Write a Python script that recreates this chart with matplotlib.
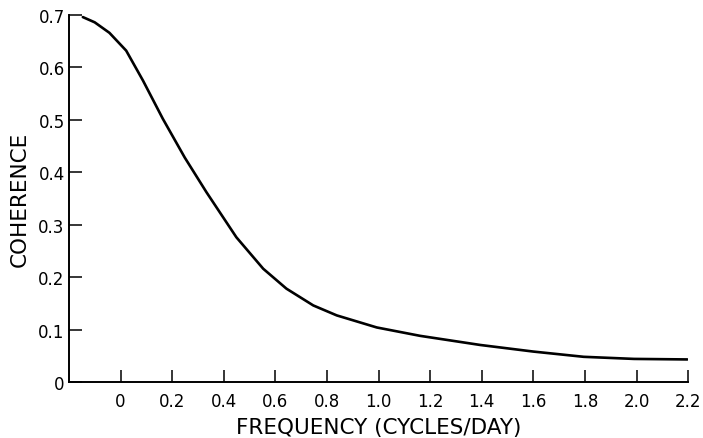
#!/usr/bin/env python3
"""Coherence spectrum vs. frequency (cycles/day)."""

import matplotlib
matplotlib.use("Agg")
import matplotlib.pyplot as plt

# Coherence curve read at a set of frequencies (cycles/day)
FREQ = [-0.146, -0.10, -0.043, 0.022, 0.087, 0.164, 0.249, 0.333,
        0.449, 0.553, 0.643, 0.747, 0.838, 0.993, 1.161, 1.394, 1.60,
        1.795, 1.99, 2.197]
COHERENCE = [0.696, 0.686, 0.666, 0.632, 0.575, 0.502, 0.428, 0.362,
             0.276, 0.216, 0.178, 0.146, 0.127, 0.104, 0.088, 0.0706, 0.058,
             0.048, 0.044, 0.043]

X_TICKS = [0, 0.2, 0.4, 0.6, 0.8, 1.0, 1.2, 1.4, 1.6, 1.8, 2.0, 2.2]
X_TICKLABELS = ["0", "0.2", "0.4", "0.6", "0.8", "1.0", "1.2", "1.4", "1.6",
                "1.8", "2.0", "2.2"]
Y_TICKS = [0, 0.1, 0.2, 0.3, 0.4, 0.5, 0.6, 0.7]
Y_TICKLABELS = ["0", "0.1", "0.2", "0.3", "0.4", "0.5", "0.6", "0.7"]

TICK_FONTSIZE = 12
LABEL_FONTSIZE = 15.5


def main() -> None:
    fig = plt.figure(figsize=(7.03, 4.39), dpi=100)
    ax = fig.add_axes([0.098, 0.1276, 0.881, 0.836])

    ax.plot(FREQ, COHERENCE, color="black", linewidth=1.9,
            solid_capstyle="round", solid_joinstyle="round")

    ax.set_xlim(-0.2, 2.2)
    ax.set_ylim(0, 0.7)

    for side in ("top", "right"):
        ax.spines[side].set_visible(False)
    for side in ("left", "bottom"):
        ax.spines[side].set_linewidth(1.4)

    ax.set_xticks(X_TICKS)
    ax.set_xticklabels(X_TICKLABELS)
    ax.set_yticks(Y_TICKS)
    ax.set_yticklabels(Y_TICKLABELS)
    ax.tick_params(axis="both", direction="in", length=9, width=1.1,
                   labelsize=TICK_FONTSIZE)
    ax.tick_params(axis="x", pad=7)
    ax.tick_params(axis="y", pad=3)

    ax.set_xlabel("FREQUENCY (CYCLES/DAY)", fontsize=LABEL_FONTSIZE, labelpad=5)
    ax.set_ylabel("COHERENCE", fontsize=LABEL_FONTSIZE, labelpad=6)

    fig.savefig("out.png", dpi=100)
    plt.close(fig)


if __name__ == "__main__":
    main()
